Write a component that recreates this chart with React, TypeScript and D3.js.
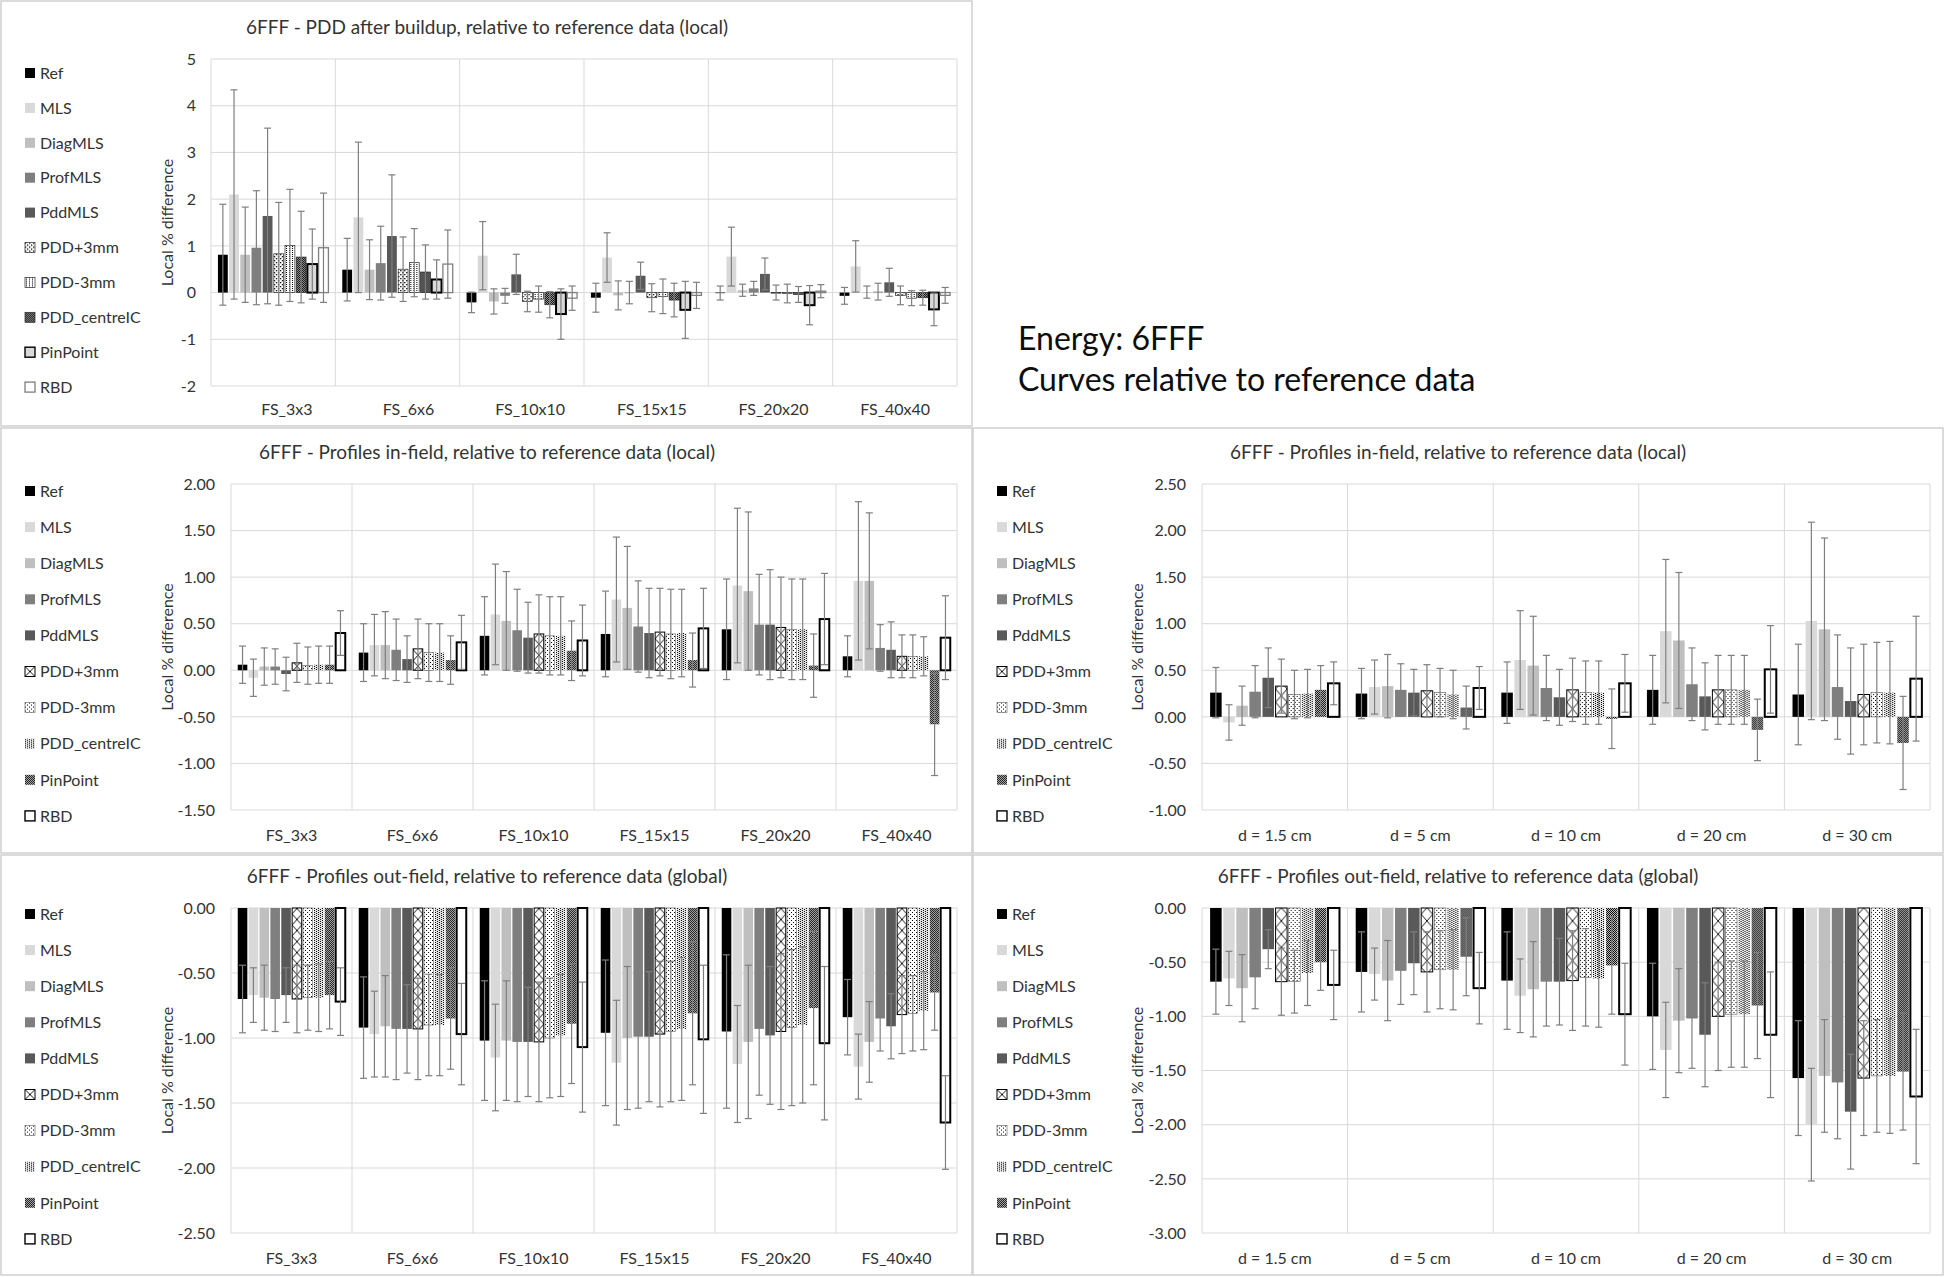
import React from 'react';
import * as d3 from 'd3';

// ---------------- DATA ----------------
const SERIES = ['Ref', 'MLS', 'DiagMLS', 'ProfMLS', 'PddMLS', 'PDD+3mm', 'PDD-3mm', 'PDD_centreIC', 'PinPoint', 'RBD'];
const FS_CATEGORIES = ['FS_3x3', 'FS_6x6', 'FS_10x10', 'FS_15x15', 'FS_20x20', 'FS_40x40'];
const DEPTH_CATEGORIES = ['d = 1.5 cm', 'd = 5 cm', 'd = 10 cm', 'd = 20 cm', 'd = 30 cm'];

// PDD after buildup (local), rows = series, cols = field sizes
const PDD_VALUES = [
  [0.81, 0.49, -0.21, -0.11, -0.01, -0.07],
  [2.10, 1.61, 0.79, 0.75, 0.77, 0.56],
  [0.81, 0.49, -0.19, -0.06, 0.05, 0.01],
  [0.96, 0.63, -0.07, 0.00, 0.09, 0.02],
  [1.64, 1.21, 0.39, 0.36, 0.40, 0.22],
  [0.83, 0.50, -0.19, -0.11, 0.00, -0.06],
  [1.01, 0.64, -0.14, -0.08, -0.02, -0.12],
  [0.76, 0.44, -0.26, -0.16, -0.04, -0.11],
  [0.61, 0.28, -0.46, -0.37, -0.27, -0.36],
  [0.96, 0.61, -0.12, -0.06, 0.03, -0.06],
];
const PDD_ERRORS = [
  [1.08, 0.67, 0.22, 0.31, 0.15, 0.18],
  [2.24, 1.61, 0.73, 0.53, 0.63, 0.55],
  [1.02, 0.64, 0.27, 0.31, 0.13, 0.13],
  [1.22, 0.79, 0.16, 0.24, 0.15, 0.18],
  [1.88, 1.31, 0.43, 0.29, 0.34, 0.30],
  [1.10, 0.69, 0.22, 0.30, 0.16, 0.20],
  [1.20, 0.73, 0.28, 0.37, 0.20, 0.16],
  [0.98, 0.58, 0.28, 0.36, 0.17, 0.16],
  [0.75, 0.42, 0.54, 0.61, 0.42, 0.35],
  [1.17, 0.73, 0.26, 0.28, 0.14, 0.17],
];

// Profiles in-field (local) by field size
const INFIELD_FS_VALUES = [
  [0.06, 0.19, 0.37, 0.39, 0.44, 0.15],
  [-0.08, 0.27, 0.60, 0.76, 0.91, 0.96],
  [0.04, 0.27, 0.53, 0.67, 0.85, 0.96],
  [0.04, 0.22, 0.43, 0.47, 0.49, 0.24],
  [-0.04, 0.12, 0.35, 0.40, 0.49, 0.22],
  [0.08, 0.23, 0.39, 0.41, 0.46, 0.15],
  [0.05, 0.19, 0.37, 0.39, 0.44, 0.15],
  [0.06, 0.19, 0.37, 0.40, 0.44, 0.15],
  [0.06, 0.11, 0.21, 0.11, 0.05, -0.58],
  [0.40, 0.30, 0.32, 0.45, 0.55, 0.35],
];
const INFIELD_FS_ERRORS = [
  [0.20, 0.31, 0.42, 0.46, 0.54, 0.22],
  [0.20, 0.33, 0.54, 0.67, 0.83, 0.85],
  [0.20, 0.36, 0.53, 0.66, 0.85, 0.73],
  [0.19, 0.33, 0.44, 0.49, 0.54, 0.25],
  [0.18, 0.25, 0.38, 0.48, 0.59, 0.30],
  [0.21, 0.32, 0.42, 0.47, 0.54, 0.23],
  [0.20, 0.31, 0.42, 0.48, 0.54, 0.23],
  [0.20, 0.31, 0.42, 0.47, 0.54, 0.21],
  [0.20, 0.26, 0.32, 0.29, 0.34, 0.55],
  [0.24, 0.29, 0.38, 0.43, 0.49, 0.45],
];

// Profiles out-field (global) by field size
const OUTFIELD_FS_VALUES = [
  [-0.70, -0.92, -1.02, -0.96, -0.95, -0.84],
  [-0.67, -0.97, -1.15, -1.19, -1.20, -1.22],
  [-0.69, -0.91, -1.02, -1.00, -1.03, -1.03],
  [-0.70, -0.93, -1.03, -0.99, -0.93, -0.85],
  [-0.67, -0.93, -1.03, -0.99, -0.98, -0.91],
  [-0.70, -0.93, -1.03, -0.97, -0.95, -0.82],
  [-0.69, -0.90, -1.00, -0.95, -0.92, -0.81],
  [-0.69, -0.90, -0.98, -0.93, -0.90, -0.79],
  [-0.67, -0.85, -0.89, -0.81, -0.77, -0.65],
  [-0.72, -0.97, -1.07, -1.01, -1.04, -1.65],
];
const OUTFIELD_FS_ERRORS = [
  [0.26, 0.39, 0.46, 0.56, 0.59, 0.29],
  [0.21, 0.33, 0.41, 0.48, 0.45, 0.25],
  [0.25, 0.39, 0.46, 0.55, 0.59, 0.31],
  [0.25, 0.39, 0.46, 0.55, 0.51, 0.25],
  [0.21, 0.34, 0.42, 0.50, 0.53, 0.25],
  [0.26, 0.39, 0.46, 0.56, 0.60, 0.30],
  [0.25, 0.39, 0.46, 0.54, 0.60, 0.29],
  [0.26, 0.39, 0.47, 0.55, 0.60, 0.30],
  [0.26, 0.39, 0.46, 0.55, 0.59, 0.29],
  [0.26, 0.39, 0.50, 0.57, 0.59, 0.36],
];

// Profiles in-field (local) by depth
const INFIELD_D_VALUES = [
  [0.26, 0.25, 0.26, 0.29, 0.24],
  [-0.06, 0.32, 0.61, 0.92, 1.03],
  [0.12, 0.33, 0.55, 0.82, 0.94],
  [0.27, 0.29, 0.31, 0.35, 0.32],
  [0.42, 0.26, 0.21, 0.22, 0.17],
  [0.33, 0.28, 0.29, 0.29, 0.24],
  [0.24, 0.26, 0.26, 0.29, 0.26],
  [0.25, 0.24, 0.26, 0.29, 0.26],
  [0.29, 0.10, -0.02, -0.14, -0.28],
  [0.36, 0.31, 0.36, 0.51, 0.41],
];
const INFIELD_D_ERRORS = [
  [0.27, 0.27, 0.33, 0.37, 0.54],
  [0.19, 0.29, 0.53, 0.77, 1.06],
  [0.21, 0.34, 0.53, 0.73, 0.98],
  [0.28, 0.28, 0.35, 0.39, 0.56],
  [0.32, 0.25, 0.30, 0.36, 0.57],
  [0.29, 0.28, 0.34, 0.37, 0.54],
  [0.26, 0.26, 0.34, 0.37, 0.54],
  [0.26, 0.26, 0.34, 0.37, 0.55],
  [0.26, 0.23, 0.32, 0.33, 0.50],
  [0.23, 0.23, 0.31, 0.47, 0.67],
];

// Profiles out-field (global) by depth
const OUTFIELD_D_VALUES = [
  [-0.68, -0.59, -0.67, -1.00, -1.57],
  [-0.65, -0.61, -0.81, -1.31, -2.00],
  [-0.74, -0.67, -0.75, -1.04, -1.55],
  [-0.64, -0.58, -0.68, -1.02, -1.61],
  [-0.38, -0.51, -0.68, -1.17, -1.88],
  [-0.68, -0.59, -0.67, -1.00, -1.57],
  [-0.68, -0.57, -0.64, -0.98, -1.55],
  [-0.60, -0.57, -0.65, -0.98, -1.55],
  [-0.50, -0.45, -0.53, -0.90, -1.51],
  [-0.71, -0.74, -0.98, -1.17, -1.74],
];
const OUTFIELD_D_ERRORS = [
  [0.30, 0.37, 0.45, 0.49, 0.53],
  [0.25, 0.24, 0.34, 0.44, 0.52],
  [0.31, 0.37, 0.44, 0.48, 0.52],
  [0.29, 0.31, 0.41, 0.46, 0.52],
  [0.18, 0.29, 0.40, 0.48, 0.53],
  [0.31, 0.37, 0.46, 0.50, 0.53],
  [0.29, 0.36, 0.45, 0.49, 0.52],
  [0.30, 0.37, 0.45, 0.49, 0.53],
  [0.26, 0.36, 0.45, 0.49, 0.54],
  [0.32, 0.33, 0.47, 0.58, 0.62],
];

const TITLES = [
  '6FFF - PDD after buildup, relative to reference data (local)',
  '6FFF - Profiles in-field, relative to reference data (local)',
  '6FFF - Profiles out-field, relative to reference data (global)',
  '6FFF - Profiles in-field, relative to reference data (local)',
  '6FFF - Profiles out-field, relative to reference data (global)',
];
const Y_TITLE = 'Local % difference';
const NOTE_LINES = ['Energy: 6FFF', 'Curves relative to reference data'];

// ---------------- STYLE ----------------
const FONT = "Lato, 'Open Sans', sans-serif";
const TEXT = '#333333';
const GRID = '#d9d9d9';
const ERR = '#7f7f7f';

const locale = d3.formatLocale({ decimal: '.', thousands: ',', grouping: [3], currency: ['', ''], minus: '-' });
const fmtInt = locale.format('d');
const fmt2 = locale.format('.2f');

type BarStyle = { fill: string; stroke?: string; sw?: number; legendFill?: string };

const styleA = (id: string): BarStyle[] => [
  { fill: '#000000' },
  { fill: '#d9d9d9' },
  { fill: '#bfbfbf' },
  { fill: '#7f7f7f' },
  { fill: '#595959' },
  { fill: `url(#${id}-dotsA)`, stroke: '#262626', sw: 0.7 },
  { fill: `url(#${id}-vstripe)`, stroke: '#262626', sw: 0.7 },
  { fill: `url(#${id}-checkA)`, stroke: '#262626', sw: 0.7 },
  { fill: '#d9d9d9', stroke: '#000000', sw: 2 },
  { fill: '#ffffff', stroke: '#7f7f7f', sw: 1.3 },
];
const styleB = (id: string): BarStyle[] => [
  { fill: '#000000' },
  { fill: '#d9d9d9' },
  { fill: '#bfbfbf' },
  { fill: '#7f7f7f' },
  { fill: '#595959' },
  { fill: `url(#${id}-xh)`, stroke: '#000000', sw: 1, legendFill: `url(#${id}-xhL)` },
  { fill: `url(#${id}-dots)`, stroke: '#595959', sw: 0.6 },
  { fill: `url(#${id}-centre)` },
  { fill: `url(#${id}-pin)` },
  { fill: '#ffffff', stroke: '#000000', sw: 2 },
];

type PanelCfg = {
  id: string; title: string; titleSize: number; cats: string[]; values: number[][]; errors: number[][];
  yMin: number; yMax: number; yStep: number; fmt: (n: number) => string; styles: BarStyle[];
  box: [number, number, number, number]; plot: [number, number, number, number];
  titleX: number; titleY: number; legendX: number; legendY: number; legendDy: number;
  tickRight: number; yTitleX: number; catY: number; labelRange?: [number, number];
};

const PANELS: PanelCfg[] = [
  {
    id: 'p1', title: TITLES[0], titleSize: 19, cats: FS_CATEGORIES, values: PDD_VALUES, errors: PDD_ERRORS,
    yMin: -2, yMax: 5, yStep: 1, fmt: fmtInt, styles: styleA('p1'),
    box: [1, 1, 972, 426], plot: [211, 957, 59, 386], titleX: 487, titleY: 34,
    legendX: 25, legendY: 73, legendDy: 34.9, tickRight: 196, yTitleX: 167, catY: 409, labelRange: [226, 956],
  },
  {
    id: 'p2', title: TITLES[1], titleSize: 19, cats: FS_CATEGORIES, values: INFIELD_FS_VALUES, errors: INFIELD_FS_ERRORS,
    yMin: -1.5, yMax: 2, yStep: 0.5, fmt: fmt2, styles: styleB('p2'),
    box: [1, 428, 972, 853], plot: [231, 957, 484, 810], titleX: 487, titleY: 459,
    legendX: 25, legendY: 491, legendDy: 36.1, tickRight: 215, yTitleX: 167, catY: 835,
  },
  {
    id: 'p3', title: TITLES[2], titleSize: 19, cats: FS_CATEGORIES, values: OUTFIELD_FS_VALUES, errors: OUTFIELD_FS_ERRORS,
    yMin: -2.5, yMax: 0, yStep: 0.5, fmt: fmt2, styles: styleB('p3'),
    box: [1, 855, 972, 1275], plot: [231, 957, 908, 1233], titleX: 487, titleY: 883,
    legendX: 25, legendY: 914, legendDy: 36.1, tickRight: 215, yTitleX: 167, catY: 1258,
  },
  {
    id: 'p4', title: TITLES[3], titleSize: 19, cats: DEPTH_CATEGORIES, values: INFIELD_D_VALUES, errors: INFIELD_D_ERRORS,
    yMin: -1, yMax: 2.5, yStep: 0.5, fmt: fmt2, styles: styleB('p4'),
    box: [973, 428, 1943, 853], plot: [1202, 1930, 484, 810], titleX: 1458, titleY: 459,
    legendX: 997, legendY: 491, legendDy: 36.1, tickRight: 1186, yTitleX: 1137, catY: 835,
  },
  {
    id: 'p5', title: TITLES[4], titleSize: 19, cats: DEPTH_CATEGORIES, values: OUTFIELD_D_VALUES, errors: OUTFIELD_D_ERRORS,
    yMin: -3, yMax: 0, yStep: 0.5, fmt: fmt2, styles: styleB('p5'),
    box: [973, 855, 1943, 1275], plot: [1202, 1930, 908, 1233], titleX: 1458, titleY: 883,
    legendX: 997, legendY: 914, legendDy: 36.1, tickRight: 1186, yTitleX: 1137, catY: 1258,
  },
];

function Patterns({ id, bw }: { id: string; bw: number }) {
  const h = bw * 1.15;
  return (
    <>
      <pattern id={`${id}-xh`} patternUnits="userSpaceOnUse" width={bw} height={h}>
        <rect width={bw} height={h} fill="#fff" />
        <path d={`M0,0L${bw},${h}M${bw},0L0,${h}`} stroke="#000" strokeWidth={0.9} fill="none" />
      </pattern>
      <pattern id={`${id}-xhL`} patternUnits="userSpaceOnUse" width={10} height={10}>
        <rect width={10} height={10} fill="#fff" />
        <path d="M0,0L10,10M10,0L0,10" stroke="#000" strokeWidth={0.9} fill="none" />
      </pattern>
      <pattern id={`${id}-dots`} patternUnits="userSpaceOnUse" width={4} height={4}>
        <rect width={4} height={4} fill="#fff" />
        <rect x={0} y={0} width={1} height={1} fill="#000" />
        <rect x={2} y={2} width={1} height={1} fill="#000" />
      </pattern>
      <pattern id={`${id}-centre`} patternUnits="userSpaceOnUse" width={4} height={2}>
        <rect width={4} height={2} fill="#e6e6e6" />
        <rect x={0} y={0} width={1} height={1} fill="#000" />
        <rect x={2} y={1} width={1} height={1} fill="#000" />
      </pattern>
      <pattern id={`${id}-pin`} patternUnits="userSpaceOnUse" width={2} height={2}>
        <rect width={2} height={2} fill="#c8c8c8" />
        <rect x={0} y={0} width={1} height={1} fill="#000" />
        <rect x={1} y={1} width={1} height={1} fill="#000" />
      </pattern>
      <pattern id={`${id}-dotsA`} patternUnits="userSpaceOnUse" width={4} height={4}>
        <rect width={4} height={4} fill="#fff" />
        <rect x={0} y={0} width={1.3} height={1.3} fill="#000" />
        <rect x={2} y={2} width={1.3} height={1.3} fill="#000" />
      </pattern>
      <pattern id={`${id}-vstripe`} patternUnits="userSpaceOnUse" width={3} height={2}>
        <rect width={3} height={2} fill="#fff" />
        <rect x={1} y={0} width={1} height={1} fill="#000" />
      </pattern>
      <pattern id={`${id}-checkA`} patternUnits="userSpaceOnUse" width={2} height={2}>
        <rect width={2} height={2} fill="#a6a6a6" />
        <rect x={0} y={0} width={1} height={1} fill="#000" />
        <rect x={1} y={1} width={1} height={1} fill="#000" />
      </pattern>
    </>
  );
}

function Panel({ cfg }: { cfg: PanelCfg }) {
  const [l, r, t, b] = cfg.plot;
  const x0 = d3.scaleBand<string>().domain(cfg.cats).range([l, r]);
  const catW = x0.bandwidth();
  const x1 = d3.scaleBand<string>().domain(SERIES).range([0, catW]).paddingInner(0.12).paddingOuter(0.62);
  const bw = x1.bandwidth();
  const y = d3.scaleLinear().domain([cfg.yMin, cfg.yMax]).range([b, t]);
  const ticks = d3.range(cfg.yMin, cfg.yMax + cfg.yStep / 2, cfg.yStep);
  const xl = d3.scaleBand<string>().domain(cfg.cats).range(cfg.labelRange || [l, r]);
  const [bx0, by0, bx1, by1] = cfg.box;
  const cap = 3.5;

  return (
    <g fontFamily={FONT}>
      <defs>
        <Patterns id={cfg.id} bw={bw} />
      </defs>
      <rect x={bx0} y={by0} width={bx1 - bx0} height={by1 - by0} fill="#fff" stroke="#d0d0d0" strokeWidth={1.5} />
      <text x={cfg.titleX} y={cfg.titleY} textAnchor="middle" fontSize={cfg.titleSize} fill={TEXT}>{cfg.title}</text>
      {/* gridlines */}
      {ticks.map((v) => (
        <line key={`h${v}`} x1={l} x2={r} y1={y(v)} y2={y(v)} stroke={GRID} strokeWidth={1} />
      ))}
      {cfg.cats.map((c) => (
        <line key={`v${c}`} x1={x0(c)} x2={x0(c)} y1={t} y2={b} stroke={GRID} strokeWidth={1} />
      ))}
      <line x1={r} x2={r} y1={t} y2={b} stroke={GRID} strokeWidth={1} />
      {/* tick labels */}
      {ticks.map((v) => (
        <text key={`t${v}`} x={cfg.tickRight} y={y(v)} dy="0.36em" textAnchor="end" fontSize={16} fill={TEXT}>{cfg.fmt(v)}</text>
      ))}
      <text transform={`translate(${cfg.yTitleX},${(t + b) / 2}) rotate(-90)`} textAnchor="middle" dy="0.36em" fontSize={16} fill={TEXT}>{Y_TITLE}</text>
      {cfg.cats.map((c) => (
        <text key={`c${c}`} x={(xl(c) as number) + xl.bandwidth() / 2} y={cfg.catY} dy="0.36em" textAnchor="middle" fontSize={16} fill={TEXT}>{c}</text>
      ))}
      {/* bars */}
      {SERIES.map((s, si) => {
        const st = cfg.styles[si];
        return (
          <g key={`s${s}`}>
            {cfg.cats.map((c, ci) => {
              const v = cfg.values[si][ci];
              const bx = (x0(c) as number) + (x1(s) as number);
              const y0 = y(0);
              const yv = y(v);
              return (
                <g key={`b${c}`} transform={`translate(${bx},0)`}>
                  <rect x={0} y={Math.min(y0, yv)} width={bw} height={Math.max(0.6, Math.abs(yv - y0))}
                    fill={st.fill} stroke={st.stroke || 'none'} strokeWidth={st.sw || 0} />
                </g>
              );
            })}
          </g>
        );
      })}
      {/* error bars */}
      {SERIES.map((s, si) => (
        <g key={`e${s}`} stroke={ERR} strokeWidth={1.2}>
          {cfg.cats.map((c, ci) => {
            const v = cfg.values[si][ci];
            const e = cfg.errors[si][ci];
            const cx = (x0(c) as number) + (x1(s) as number) + bw / 2;
            const yHi = y(v + e);
            const yLo = y(v - e);
            return (
              <g key={`eb${c}`}>
                <line x1={cx} x2={cx} y1={yHi} y2={yLo} />
                <line x1={cx - cap} x2={cx + cap} y1={yHi} y2={yHi} />
                <line x1={cx - cap} x2={cx + cap} y1={yLo} y2={yLo} />
              </g>
            );
          })}
        </g>
      ))}
      {/* legend */}
      {SERIES.map((s, si) => {
        const st = cfg.styles[si];
        const cy = cfg.legendY + si * cfg.legendDy;
        return (
          <g key={`l${s}`}>
            <g transform={`translate(${cfg.legendX},${cy - 5})`}>
              <rect x={0} y={0} width={10} height={10} fill={st.legendFill || st.fill}
                stroke={st.stroke || 'none'} strokeWidth={st.sw ? Math.min(st.sw, 1.4) : 0} />
            </g>
            <text x={cfg.legendX + 15} y={cy} dy="0.36em" fontSize={16} fill={TEXT}>{s}</text>
          </g>
        );
      })}
    </g>
  );
}

export default function App() {
  return (
    <svg width={1946} height={1277} viewBox="0 0 1946 1277"
      style={{ position: 'absolute', left: 0, top: 0, background: '#fff' }}>
      <rect x={0} y={0} width={1946} height={1277} fill="#fff" />
      {PANELS.map((p) => <Panel key={p.id} cfg={p} />)}
      <g fontFamily={FONT} fill="#0d0d0d" fontSize={32}>
        {NOTE_LINES.map((line, i) => (
          <text key={line} x={1018} y={350 + i * 41}>{line}</text>
        ))}
      </g>
    </svg>
  );
}
